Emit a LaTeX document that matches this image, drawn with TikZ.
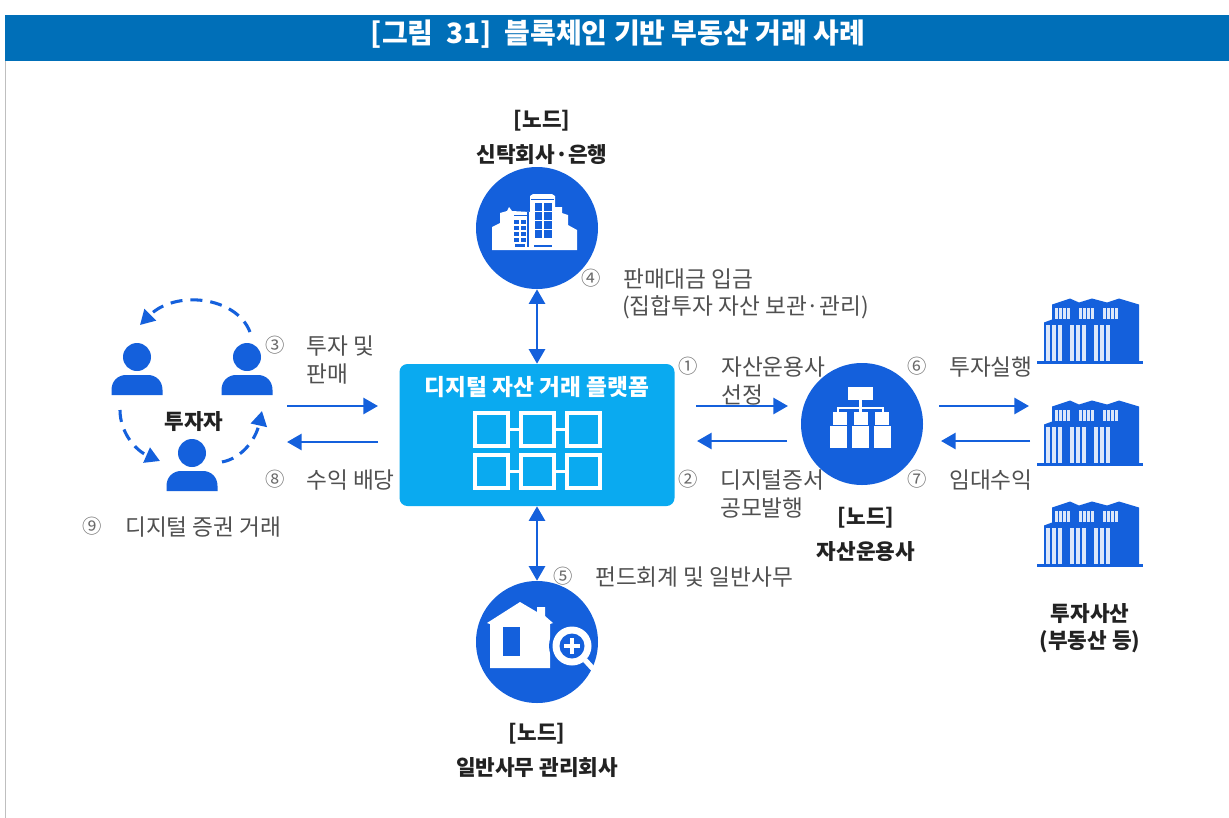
\documentclass[tikz,border=0pt]{standalone}
\usepackage{fontspec}
\usetikzlibrary{arrows.meta}
\setmainfont{Noto Sans CJK KR}
\definecolor{hdr}{HTML}{006FB8}
\definecolor{nodeblue}{HTML}{1460DC}
\definecolor{platblue}{HTML}{0AAAF0}
\definecolor{graytxt}{HTML}{505050}
\definecolor{darktxt}{HTML}{222222}
\tikzset{
  x=0.75pt,y=-0.75pt,
  lbl/.style={font=\fontsize{17pt}{19pt}\selectfont,text=graytxt,inner sep=0,anchor=west,yshift=-0.8pt},
  num/.style={font=\fontsize{14.5pt}{16pt}\selectfont,text=graytxt!85,inner sep=0},
  ttl/.style={font=\bfseries\fontsize{16pt}{18pt}\selectfont,text=darktxt,inner sep=0,yshift=-1.2pt},
  hub/.style={circle,fill=nodeblue,minimum size=91.5pt,inner sep=0},
  plat/.style={rectangle,rounded corners=6pt,fill=platblue,minimum width=206.25pt,minimum height=106.5pt,inner sep=0},
  flow/.style={draw=nodeblue,line width=2.1pt,-{Triangle[length=11pt,width=12pt]}},
  biflow/.style={draw=nodeblue,line width=2.1pt,{Triangle[length=11pt,width=12pt]}-{Triangle[length=11pt,width=12pt]}},
  ring/.style={draw=nodeblue,line width=2.3pt,dash pattern=on 9pt off 6pt,-{Triangle[length=11pt,width=12pt]}},
  cell/.style={draw=white,line width=2.6pt},
  person/.pic={
    \fill[nodeblue] (0,0) circle (14);
    \fill[nodeblue] (-25.5,38) -- (-25.5,33) .. controls (-25.5,24) and (-19,18) .. (-11,18) -- (11,18) .. controls (19,18) and (25.5,24) .. (25.5,33) -- (25.5,38) -- cycle;
  },
  tower/.pic={
    \fill[nodeblue] (15,-59) -- (33,-65) -- (42,-61) -- (55,-65) -- (70,-61) -- (82,-65) -- (102,-59) -- (102,-2) -- (7,-2) -- (7,-41) -- (15,-44) -- cycle;
    \draw[nodeblue,line width=2.2pt] (0,-1) -- (106,-1);
    \foreach \a in {9,33,57}{
      \foreach \b in {0,6,12}{
        \fill[white!85!nodeblue] (\a+\b,-39) rectangle (\a+\b+4.2,-3);
      }
    }
    \foreach \a in {18,42,66}{
      \foreach \b in {0,4,8,12}{
        \fill[white!85!nodeblue] (\a+\b,-56) rectangle (\a+\b+2.5,-45);
      }
    }
  }
}
\begin{document}
\begin{tikzpicture}
\useasboundingbox (0,0) rectangle (1229,818);
\fill[white] (0,0) rectangle (1229,818);
\draw[black!25,line width=0.6pt] (5,61) -- (5,818);
\fill[hdr] (5,15) rectangle (1229,61);
\node[font=\bfseries\fontsize{21pt}{23pt}\selectfont,text=white,inner sep=0] (title) at (618,34.5) {[그림~~31]~~블록체인 기반 부동산 거래 사례};

% main nodes
\node[plat] (platform) at (537,435) {};
\node[hub] (trust) at (537,228) {};
\node[hub] (admin) at (537,642) {};
\node[hub] (manager) at (862,424) {};

% platform content
\node[font=\bfseries\fontsize{17pt}{19pt}\selectfont,text=white,inner sep=0] (plattitle) at (537,387) {디지털 자산 거래 플랫폼};
\foreach \x/\w in {475/33,521/33,567/33}{
  \foreach \y in {413,455}{
    \draw[cell] (\x,\y) rectangle (\x+\w,\y+33);
  }
}
\foreach \y in {429.5,471.5}{
  \draw[cell] (508,\y) -- (521,\y);
  \draw[cell] (554,\y) -- (567,\y);
}

% trust icon
\fill[white] (492,250) -- (492,227) -- (500,223) -- (500,213) -- (507,211) -- (509,207) -- (512,211) -- (530,212) -- (530,196) -- (533,194) -- (552,194) -- (555,196) -- (555,207) -- (562,207) -- (562,213) -- (568,215) -- (568,225) -- (577,230) -- (577,250) -- cycle;
\draw[nodeblue,line width=0.9pt] (528,212) -- (528,247);
\draw[nodeblue,line width=0.7pt] (531,199) -- (554,199);
\draw[nodeblue,line width=0.7pt] (514,215) -- (528,215);
\foreach \yy in {203,212,221,230}{
  \fill[nodeblue] (534.5,\yy) rectangle (542,\yy+7.5);
  \fill[nodeblue] (544,\yy) rectangle (551.5,\yy+7.5);
}
\foreach \yy in {220,226,232,238}{
  \fill[nodeblue] (514,\yy) rectangle (519,\yy+3.5);
  \fill[nodeblue] (521,\yy) rectangle (526,\yy+3.5);
}
\fill[nodeblue] (515,244) rectangle (525,246.5);
\draw[nodeblue,line width=0.8pt] (534,246) -- (552,246);

% house icon
\fill[white] (487,623) -- (520,602) -- (537,612) -- (537,607) -- (545,607) -- (545,616) -- (553,623) -- (550,624) -- (550,668) -- (490,668) -- (490,624) -- cycle;
\fill[nodeblue] (503,627) rectangle (520,656);
\fill[nodeblue] (572,646) circle (23);
\fill[white] (572,646) circle (19.5);
\fill[nodeblue] (572,646) circle (12.5);
\draw[white,line width=2.6pt] (564,646) -- (580,646) (572,638) -- (572,654);
\draw[white,line width=4pt] (585,660) -- (596,672);

% manager icon
\fill[white] (848,387) rectangle (873,400);
\draw[white,line width=2pt] (860.5,400) -- (860.5,408) (838,413) -- (838,408) -- (883,408) -- (883,413) (860.5,408) -- (860.5,413);
\foreach \a/\b/\c/\d in {833/847/830/847,854/868/852/869,875/889/874/891}{
  \fill[white] (\a,412) rectangle (\b,425);
  \fill[white] (\c,426) rectangle (\d,448);
}

% people
\pic at (137,357) {person};
\pic at (247,357) {person};
\pic at (192,453) {person};
\coordinate (r1a) at (250,332);
\coordinate (r1b) at (140,325);
\coordinate (r2a) at (120,410);
\coordinate (r2b) at (160,461);
\coordinate (r3a) at (222,462);
\coordinate (r3b) at (262,411);
\draw[ring] (r1a) .. controls (236,296) and (175,290) .. (r1b);
\draw[ring] (r2a) .. controls (120,432) and (135,450) .. (r2b);
\draw[ring] (r3a) .. controls (243,458) and (256,438) .. (r3b);

% towers
\pic at (1037,363.5) {tower};
\pic at (1037,465.5) {tower};
\pic at (1037,566.5) {tower};

% flow end points
\coordinate (invOut) at (287,406);
\coordinate (platInL) at (378,406);
\coordinate (platOutL) at (378,442);
\coordinate (invIn) at (287,442);
\coordinate (platOutR) at (696,406);
\coordinate (mgrIn) at (788,406);
\coordinate (mgrOut) at (787,441);
\coordinate (platInR) at (697,441);
\coordinate (mgrOut2) at (939,406);
\coordinate (assetIn) at (1029,406);
\coordinate (assetOut) at (1030,441);
\coordinate (mgrIn2) at (941,441);

\draw[biflow] (trust) -- (platform);
\draw[biflow] (platform) -- (admin);
\draw[flow] (invOut) -- (platInL);
\draw[flow] (platOutL) -- (invIn);
\draw[flow] (platOutR) -- (mgrIn);
\draw[flow] (mgrOut) -- (platInR);
\draw[flow] (mgrOut2) -- (assetIn);
\draw[flow] (assetOut) -- (mgrIn2);

% labels
\node[ttl] (n1a) at (542,119) {[노드]};
\node[ttl] (n1b) at (542,153) {신탁회사·은행};
\node[ttl] (n2a) at (866,516) {[노드]};
\node[ttl] (n2b) at (866,550) {자산운용사};
\node[ttl] (n3a) at (537,732) {[노드]};
\node[ttl] (n3b) at (537,766) {일반사무 관리회사};
\node[ttl] (inv) at (194,420) {투자자};
\node[ttl] (as1) at (1090,612) {투자사산};
\node[ttl] (as2) at (1090,640) {(부동산 등)};

\node[num] (c1) at (688,366) {①};
\node[lbl] (t1a) at (721,366) {자산운용사};
\node[lbl] (t1b) at (721,394) {선정};
\node[num] (c2) at (688,479) {②};
\node[lbl] (t2a) at (720,479) {디지털증서};
\node[lbl] (t2b) at (720,507) {공모발행};
\node[num] (c3) at (275,345) {③};
\node[lbl] (t3a) at (306,345) {투자 및};
\node[lbl] (t3b) at (306,373) {판매};
\node[num] (c4) at (591,278) {④};
\node[lbl] (t4a) at (623,278) {판매대금 입금};
\node[lbl] (t4b) at (622,306) {(집합투자 자산 보관·관리)};
\node[num] (c5) at (563,576) {⑤};
\node[lbl] (t5) at (595,576) {펀드회계 및 일반사무};
\node[num] (c6) at (917,366) {⑥};
\node[lbl] (t6) at (949,366) {투자실행};
\node[num] (c7) at (917,479) {⑦};
\node[lbl] (t7) at (949,479) {임대수익};
\node[num] (c8) at (275,479) {⑧};
\node[lbl] (t8) at (306,479) {수익 배당};
\node[num] (c9) at (92,526) {⑨};
\node[lbl] (t9) at (125,526) {디지털 증권 거래};
\end{tikzpicture}
\end{document}
